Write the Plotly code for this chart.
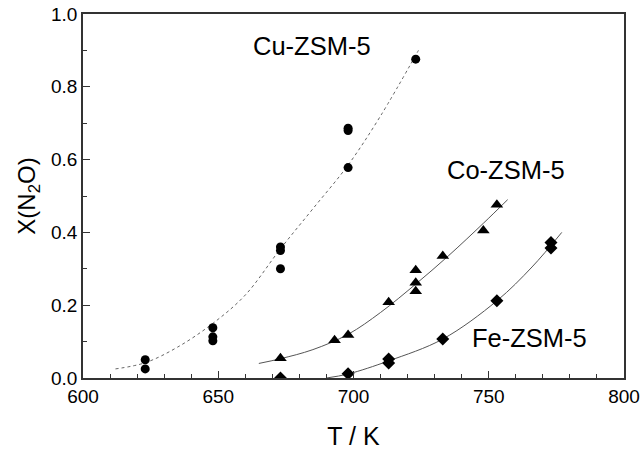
import plotly.graph_objects as go

# Measured points
cu_T = [623, 623, 648, 648, 648, 673, 673, 673, 698, 698, 698, 723]
cu_X = [0.050, 0.025, 0.138, 0.113, 0.102, 0.360, 0.350, 0.300, 0.686, 0.680, 0.578, 0.876]

co_T = [673, 693, 698, 713, 723, 723, 723, 733, 748, 753]
co_X = [0.054, 0.104, 0.118, 0.208, 0.296, 0.262, 0.238, 0.335, 0.405, 0.476]

fe_T = [673, 698, 713, 713, 733, 753, 773, 773]
fe_X = [0.000, 0.012, 0.052, 0.041, 0.107, 0.212, 0.372, 0.357]

# Fitted curves
cu_fit_T = [612, 623, 635, 648, 660, 673, 685, 698, 710, 724]
cu_fit_X = [0.025, 0.042, 0.085, 0.150, 0.228, 0.355, 0.465, 0.585, 0.720, 0.900]

co_fit_T = [665, 673, 685, 698, 710, 723, 735, 748, 757]
co_fit_X = [0.040, 0.053, 0.078, 0.120, 0.180, 0.258, 0.335, 0.425, 0.490]

fe_fit_T = [690, 698, 713, 733, 753, 766, 777]
fe_fit_X = [0.000, 0.011, 0.047, 0.107, 0.212, 0.305, 0.400]

labels = ["Cu-ZSM-5", "Co-ZSM-5", "Fe-ZSM-5"]
label_T = [684.8, 756.4, 765.2]
label_X = [0.912, 0.571, 0.110]

FONT = "Liberation Sans, Arial, Helvetica, sans-serif"

fig = go.Figure()
fig.add_trace(go.Scatter(x=cu_fit_T, y=cu_fit_X, mode="lines", line_shape="spline",
                         line=dict(color="#666666", width=1, dash="dot"), showlegend=False))
fig.add_trace(go.Scatter(x=co_fit_T, y=co_fit_X, mode="lines", line_shape="spline",
                         line=dict(color="#555555", width=1), showlegend=False))
fig.add_trace(go.Scatter(x=fe_fit_T, y=fe_fit_X, mode="lines", line_shape="spline",
                         line=dict(color="#555555", width=1), showlegend=False))

fig.add_trace(go.Scatter(x=cu_T, y=cu_X, mode="markers",
                         marker=dict(symbol="circle", size=9, color="black"), showlegend=False))
fig.add_trace(go.Scatter(x=co_T, y=co_X, mode="markers",
                         marker=dict(symbol="triangle-up", size=11, color="black"), showlegend=False))
fig.add_trace(go.Scatter(x=fe_T, y=fe_X, mode="markers",
                         marker=dict(symbol="diamond", size=10, color="black"), showlegend=False))

for t, x, s in zip(label_T, label_X, labels):
    fig.add_annotation(x=t, y=x, text=s, showarrow=False,
                       font=dict(family=FONT, size=25.5, color="black"))

fig.update_layout(
    width=644, height=450,
    margin=dict(l=83, r=20, t=14, b=72),
    paper_bgcolor="white", plot_bgcolor="white",
    font=dict(family=FONT, color="black"),
)
fig.update_xaxes(
    range=[600, 800], tickvals=[600, 650, 700, 750, 800],
    ticks="inside", ticklen=7, tickwidth=1, tickcolor="#333333",
    minor=dict(dtick=10, ticks="inside", ticklen=4, tickcolor="#333333"),
    showline=True, linecolor="#333333", linewidth=1.5, mirror=True,
    showgrid=False, zeroline=False, automargin=False,
    tickfont=dict(family=FONT, size=19),
    title=dict(text="T / K", font=dict(family=FONT, size=25), standoff=26),
)
fig.update_yaxes(
    range=[0, 1.0], tickvals=[0, 0.2, 0.4, 0.6, 0.8, 1.0], tickformat=".1f",
    ticks="inside", ticklen=7, tickwidth=1, tickcolor="#333333",
    minor=dict(dtick=0.1, ticks="inside", ticklen=4, tickcolor="#333333"),
    showline=True, linecolor="#333333", linewidth=1.5, mirror=True,
    showgrid=False, zeroline=False, automargin=False,
    tickfont=dict(family=FONT, size=19),
    title=dict(text="X(N<sub>2</sub>O)", font=dict(family=FONT, size=24), standoff=9),
)

fig.write_html("out.html")
